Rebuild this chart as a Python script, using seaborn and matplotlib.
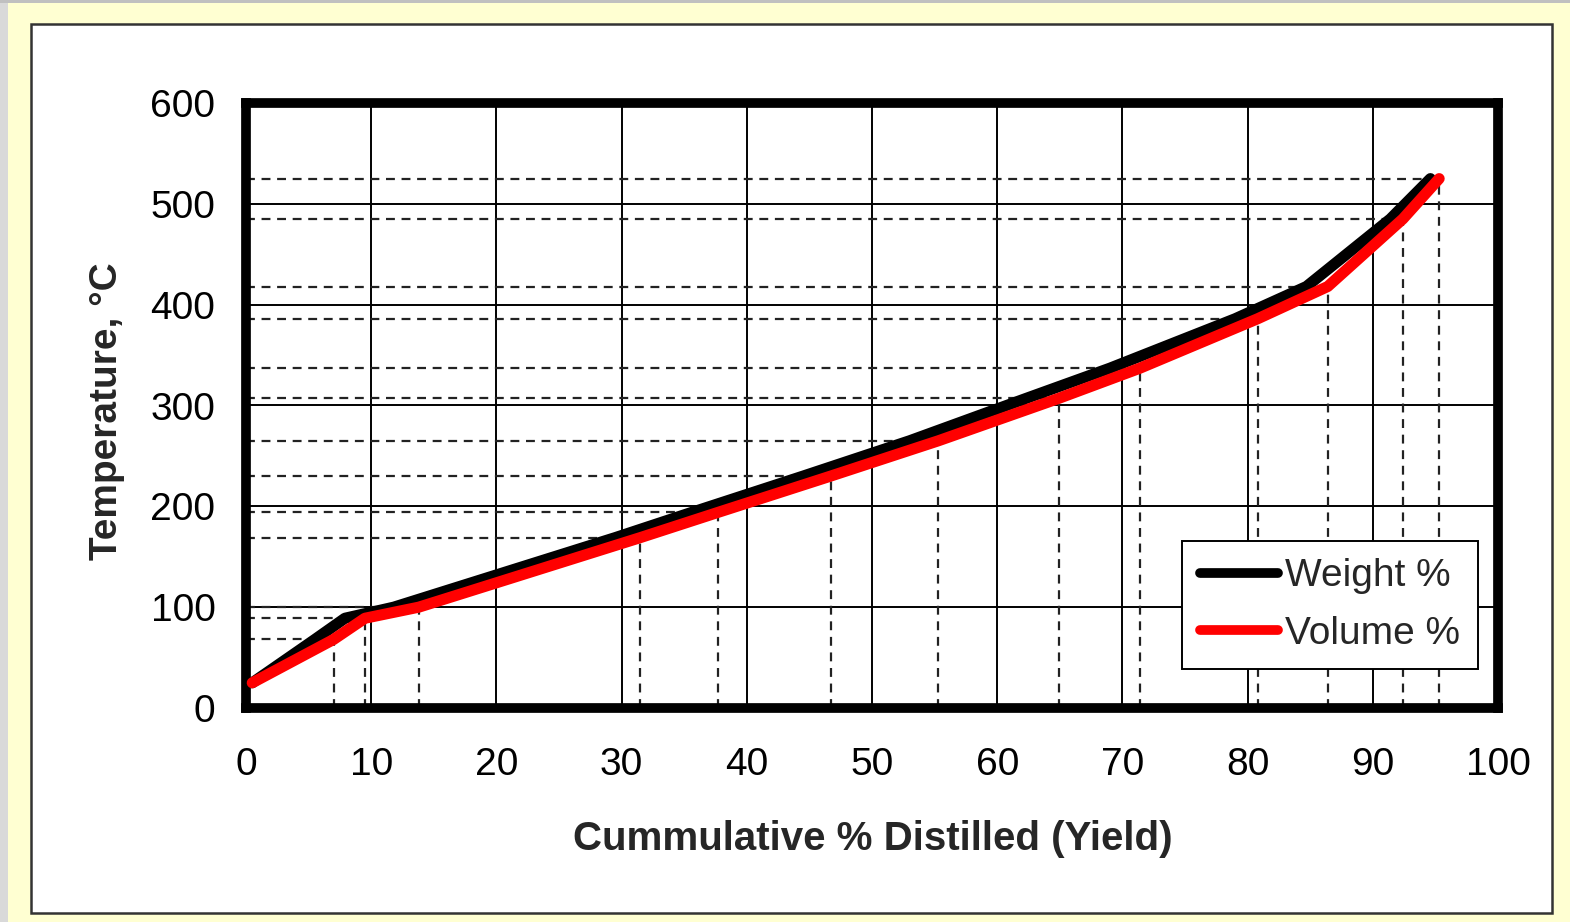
import matplotlib
matplotlib.use("Agg")
import matplotlib.pyplot as plt
from matplotlib.patches import Rectangle
import seaborn as sns
import pandas as pd

# Distillation curve data
temperature = [25, 68, 89, 100, 169, 194, 230, 265, 307, 337, 386, 418, 485, 525]
volume_pct = [0.5, 7.0, 9.5, 13.8, 31.5, 37.7, 46.7, 55.3, 64.9, 71.4, 80.8, 86.4, 92.4, 95.3]
weight_pct = [0.5, 5.5, 7.9, 11.8, 29.5, 35.6, 44.5, 53.0, 62.3, 69.0, 79.0, 84.7, 91.4, 94.6]

x_ticks = list(range(0, 101, 10))
y_ticks = list(range(0, 601, 100))

df = pd.DataFrame({"Temperature": temperature, "Volume": volume_pct, "Weight": weight_pct})

sns.set_style("white")
plt.rcParams["font.family"] = ["Liberation Sans", "DejaVu Sans"]

fig = plt.figure(figsize=(15.7, 9.22), dpi=100)
fig.patch.set_facecolor("#FFFFD2")

# Outer frame decorations (behind the axes)
fig.patches.append(Rectangle((0, 0), 8 / 1570, 1, transform=fig.transFigure,
                             facecolor="#D9D9D9", edgecolor="none", zorder=-2))
fig.patches.append(Rectangle((0, 1 - 3 / 922), 1, 3 / 922, transform=fig.transFigure,
                             facecolor="#C0C0C0", edgecolor="none", zorder=-2))
fig.patches.append(Rectangle((31 / 1570, 9 / 922), 1521 / 1570, 889 / 922,
                             transform=fig.transFigure, facecolor="white",
                             edgecolor="#333333", linewidth=1.8, zorder=-1))

ax = fig.add_axes([246 / 1570, 1 - 708 / 922, 1252 / 1570, 605 / 922])
ax.set_zorder(1)
ax.set_facecolor("white")

# Dashed guide lines from each volume point to the axes
for xv, t in zip(volume_pct[1:], temperature[1:]):
    ax.plot([0, xv], [t, t], color="#222222", lw=1.6, ls=(0, (4, 3)), zorder=1)
    ax.plot([xv, xv], [0, t], color="#222222", lw=1.6, ls=(0, (4, 3)), zorder=1)

sns.lineplot(data=df, x="Weight", y="Temperature", color="black", linewidth=8,
             label="Weight %", ax=ax, sort=False, zorder=3)
sns.lineplot(data=df, x="Volume", y="Temperature", color="#FF0000", linewidth=8,
             label="Volume %", ax=ax, sort=False, zorder=4)

ax.set_xlim(0, 100)
ax.set_ylim(0, 600)
ax.set_xticks(x_ticks)
ax.set_yticks(y_ticks)
ax.grid(True, color="black", linewidth=1.4)
ax.set_axisbelow(True)
ax.tick_params(axis="both", length=0, labelsize=28, colors="black")
ax.tick_params(axis="x", pad=28)
ax.tick_params(axis="y", pad=22)

for spine in ax.spines.values():
    spine.set_visible(True)
    spine.set_linewidth(7)
    spine.set_color("black")

ax.set_xlabel("Cummulative % Distilled (Yield)", fontsize=29, fontweight="bold")
ax.set_ylabel("Temperature, °C", fontsize=28, fontweight="bold")
ax.xaxis.set_label_coords(0.501, -0.185)
ax.yaxis.set_label_coords(-0.097, 0.49)

leg = ax.legend(loc="lower right", bbox_to_anchor=(0.984, 0.064), borderaxespad=0,
                fontsize=28, frameon=True, fancybox=False, framealpha=1,
                edgecolor="black", handlelength=2.0, handletextpad=0.2,
                labelspacing=0.55, borderpad=0.45)
leg.get_frame().set_linewidth(1.4)
for line in leg.get_lines():
    line.set_linewidth(7)

fig.savefig("out.png", dpi=100, facecolor=fig.get_facecolor())
